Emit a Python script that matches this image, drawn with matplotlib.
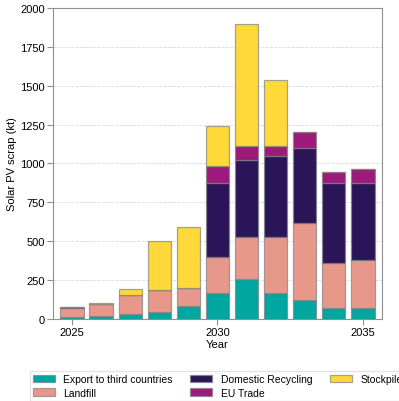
import matplotlib
matplotlib.use("Agg")
import matplotlib.pyplot as plt
import numpy as np

plt.rcParams["font.family"] = ["Liberation Sans", "DejaVu Sans"]

years = [2025, 2026, 2027, 2028, 2029, 2030, 2031, 2032, 2033, 2034, 2035]

# kt per year, stacked bottom to top
export = [15, 20, 30, 45, 86, 165, 255, 165, 120, 69, 73]
landfill = [58, 74, 127, 141, 116, 234, 274, 360, 495, 289, 304]
domestic = [0, 0, 0, 0, 0, 476, 491, 523, 487, 517, 498]
eu_trade = [3, 0, 0, 0, 0, 109, 95, 64, 101, 68, 87]
stockpile = [0, 6, 34, 314, 388, 255, 780, 427, 0, 0, 0]

series = [
    ("Export to third countries", export, "#00a6a0"),
    ("Landfill", landfill, "#e8988b"),
    ("Domestic Recycling", domestic, "#2a1558"),
    ("EU Trade", eu_trade, "#9c1a7a"),
    ("Stockpile", stockpile, "#ffd83a"),
]

fig = plt.figure(figsize=(3.99, 4.02), dpi=100)
ax = fig.add_axes([0.133, 0.204, 0.824, 0.774])

bottom = np.zeros(len(years))
for name, vals, col in series:
    ax.bar(years, vals, bottom=bottom, width=0.8, color=col,
           edgecolor=(0.5, 0.5, 0.5, 0.7), linewidth=0.9, label=name, zorder=3)
    bottom += np.array(vals)

ax.set_xlim(2024.35, 2035.65)
ax.set_ylim(0, 2000)
ax.set_yticks(np.arange(0, 2001, 250))
ax.set_xticks([2025, 2030, 2035])
ax.grid(axis="y", color="#d8d8d8", linestyle="--", linewidth=0.6, zorder=0)
for s in ax.spines.values():
    s.set_color("#909090")
ax.tick_params(colors="#909090", labelcolor="black", labelsize=8, length=4, pad=2)
ax.set_ylabel("Solar PV scrap (kt)", fontsize=8, labelpad=2)
ax.set_xlabel("Year", fontsize=8, labelpad=1)

fig.legend(loc="upper left", bbox_to_anchor=(0.075, 0.075), borderaxespad=0,
           ncol=3, fontsize=7.5, frameon=True, edgecolor="#dddddd", fancybox=False,
           handlelength=2.1, handleheight=0.75, handletextpad=0.8,
           columnspacing=1.7, labelspacing=0.35, borderpad=0.3)

fig.savefig("out.png", dpi=100)
